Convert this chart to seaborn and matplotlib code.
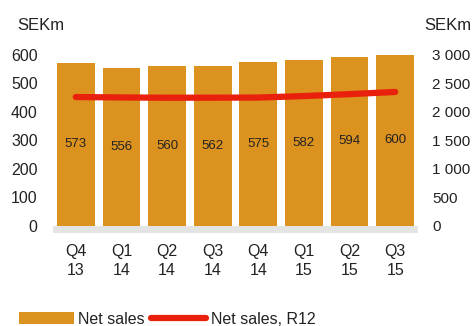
import numpy as np
import pandas as pd
import matplotlib
matplotlib.use("Agg")
import matplotlib.pyplot as plt
import seaborn as sns
from matplotlib.patches import Patch
from matplotlib.lines import Line2D

quarters = ["Q4\n13", "Q1\n14", "Q2\n14", "Q3\n14", "Q4\n14", "Q1\n15", "Q2\n15", "Q3\n15"]
net_sales = [573, 556, 560, 562, 575, 582, 594, 600]
net_sales_r12 = [2262, 2255, 2250, 2251, 2253, 2279, 2313, 2351]
left_ticks = [0, 100, 200, 300, 400, 500, 600]
right_ticks = [0, 500, 1000, 1500, 2000, 2500, 3000]
right_labels = ["0", "500", "1 000", "1 500", "2 000", "2 500", "3 000"]

sns.set_theme(style="white")
plt.rcParams["font.family"] = ["Liberation Sans", "DejaVu Sans"]

BAR = "#DC921F"
LINE = "#E8200C"
TXT = "#222222"

df = pd.DataFrame({"q": quarters, "sales": net_sales, "r12": net_sales_r12})

fig = plt.figure(figsize=(4.73, 3.26), dpi=100)
ax = fig.add_axes([53/473, 1-233/326, 365/473, 178/326])

sns.barplot(data=df, x="q", y="sales", color=BAR, width=0.83, saturation=1,
            edgecolor="none", ax=ax, zorder=2)
ax.set_xlim(-0.5, len(quarters) - 0.5)
ax.set_ylim(-25, 600)
ax.axhspan(-25, 0, color="#E4E4E4", zorder=1, lw=0)
ax.set_yticks(left_ticks)
ax.set_xlabel("")
ax.set_ylabel("")
for s in ax.spines.values():
    s.set_visible(False)
ax.tick_params(axis="y", length=0, pad=11, labelsize=11.5, labelcolor=TXT)
ax.tick_params(axis="x", length=0, pad=8, labelsize=11.5, labelcolor=TXT)
for lab in ax.get_xticklabels():
    lab.set_linespacing(1.3)

for i, v in enumerate(net_sales):
    ax.text(i, v / 2, f"{v}", ha="center", va="center", fontsize=9.5, color=TXT, zorder=4)

ax2 = ax.twinx()
sns.lineplot(x=np.arange(len(quarters)), y=df["r12"], color=LINE, linewidth=4.5,
             solid_capstyle="round", ax=ax2, zorder=5)
ax2.set_ylim(-125, 3000)
ax2.set_yticks(right_ticks)
ax2.set_yticklabels(right_labels)
ax2.set_ylabel("")
for s in ax2.spines.values():
    s.set_visible(False)
ax2.tick_params(axis="y", length=0, pad=10, labelsize=11, labelcolor=TXT)
ax2.set_xlim(-0.5, len(quarters) - 0.5)

fig.text(17/473, 1-25/326, "SEKm", ha="left", va="center", fontsize=12, color=TXT)
fig.text(424/473, 1-25/326, "SEKm", ha="left", va="center", fontsize=12, color=TXT)

handles = [Patch(facecolor=BAR, edgecolor="none"),
           Line2D([0], [0], color=LINE, linewidth=4.5, solid_capstyle="round")]
fig.legend(handles, ["Net sales", "Net sales, R12"], loc="lower left",
           bbox_to_anchor=(5/473, -15/326), ncol=2, frameon=False, fontsize=11.5,
           handlelength=3.4, handletextpad=0.3, columnspacing=0.4, labelcolor=TXT)

fig.savefig("out.png", dpi=100)
